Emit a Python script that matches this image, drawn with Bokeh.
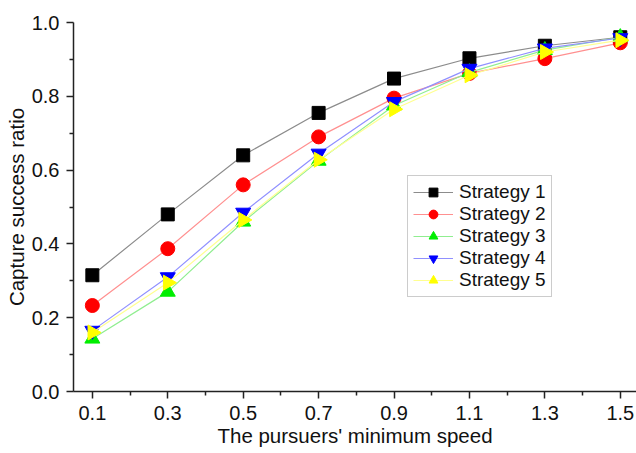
import math
from bokeh.plotting import figure
from bokeh.models import Range1d, FixedTicker, Legend, LegendItem, NumeralTickFormatter
from bokeh.embed import file_html
from bokeh.resources import INLINE

speeds = [0.1, 0.3, 0.5, 0.7, 0.9, 1.1, 1.3, 1.5]
strategy1 = [0.315, 0.48, 0.64, 0.755, 0.848, 0.903, 0.937, 0.960]
strategy2 = [0.233, 0.387, 0.560, 0.690, 0.795, 0.862, 0.902, 0.945]
strategy3 = [0.143, 0.270, 0.460, 0.625, 0.775, 0.865, 0.925, 0.960]
strategy4 = [0.165, 0.310, 0.485, 0.645, 0.785, 0.875, 0.930, 0.958]
strategy5 = [0.160, 0.295, 0.465, 0.628, 0.765, 0.857, 0.920, 0.952]
names = ["Strategy 1", "Strategy 2", "Strategy 3", "Strategy 4", "Strategy 5"]
x_ticks = [0.1, 0.3, 0.5, 0.7, 0.9, 1.1, 1.3, 1.5]
y_ticks = [0.0, 0.2, 0.4, 0.6, 0.8, 1.0]

FONT = "Liberation Sans"

p = figure(width=636, height=453, output_backend="svg", toolbar_location=None,
           x_range=Range1d(0.05, 1.543), y_range=Range1d(0.0, 1.0),
           min_border_left=73, min_border_right=0, min_border_top=22, min_border_bottom=62)
p.outline_line_color = None
p.grid.visible = False
p.background_fill_color = "white"
p.border_fill_color = "white"

series = [strategy1, strategy2, strategy3, strategy4, strategy5]
line_colors = ["#8c8c8c", "#ff9090", "#90ee90", "#9090ff", "#ffff90"]
mark_colors = ["#000000", "#ff0000", "#00ee00", "#0000ff", "#ffff00"]
markers = ["square", "circle", "triangle", "inverted_triangle", "triangle"]
angles = [0, 0, 0, 0, -math.pi / 2]
sizes = [13, 14, 15, 15, 15]

items = []
for s, lc, mc, mk, ang, sz, nm in zip(series, line_colors, mark_colors, markers, angles, sizes, names):
    r1 = p.line(speeds, s, line_color=lc, line_width=1.2)
    r2 = p.scatter(speeds, s, marker=mk, size=sz, angle=ang, fill_color=mc, line_color=mc)
    items.append(LegendItem(label=nm, renderers=[r1, r2]))

legend = Legend(items=items, location=(334, 94))
legend.label_text_font = FONT
legend.label_text_font_size = "19px"
legend.label_text_color = "#111111"
legend.glyph_width = 40
legend.glyph_height = 22
legend.label_height = 22
legend.label_standoff = 6
legend.spacing = 0
legend.padding = 5
legend.margin = 0
legend.border_line_color = "#999999"
legend.border_line_width = 1
legend.background_fill_alpha = 1.0
p.add_layout(legend, "center")

for ax in (p.xaxis[0], p.yaxis[0]):
    ax.axis_line_width = 1.5
    ax.axis_line_color = "#222222"
    ax.major_tick_line_color = "#222222"
    ax.minor_tick_line_color = "#222222"
    ax.major_tick_line_width = 1.5
    ax.minor_tick_line_width = 1.5
    ax.major_tick_out = 7
    ax.major_tick_in = 0
    ax.minor_tick_out = 4
    ax.minor_tick_in = 0
    ax.major_label_text_font = FONT
    ax.major_label_text_font_size = "20px"
    ax.major_label_text_color = "#111111"
    ax.axis_label_text_font = FONT
    ax.axis_label_text_font_size = "20.5px"
    ax.axis_label_text_font_style = "normal"
    ax.axis_label_text_color = "#111111"
    ax.formatter = NumeralTickFormatter(format="0.0")

p.xaxis.ticker = FixedTicker(ticks=x_ticks, minor_ticks=[0.2, 0.4, 0.6, 0.8, 1.0, 1.2, 1.4])
p.yaxis.ticker = FixedTicker(ticks=y_ticks, minor_ticks=[0.1, 0.3, 0.5, 0.7, 0.9])
p.xaxis.axis_label = "The pursuers' minimum speed"
p.yaxis.axis_label = "Capture success ratio"
p.xaxis.major_label_standoff = 7
p.yaxis.major_label_standoff = 7
p.xaxis.axis_label_standoff = 1
p.yaxis.axis_label_standoff = 1

open("out.html", "w").write(file_html(p, INLINE))
